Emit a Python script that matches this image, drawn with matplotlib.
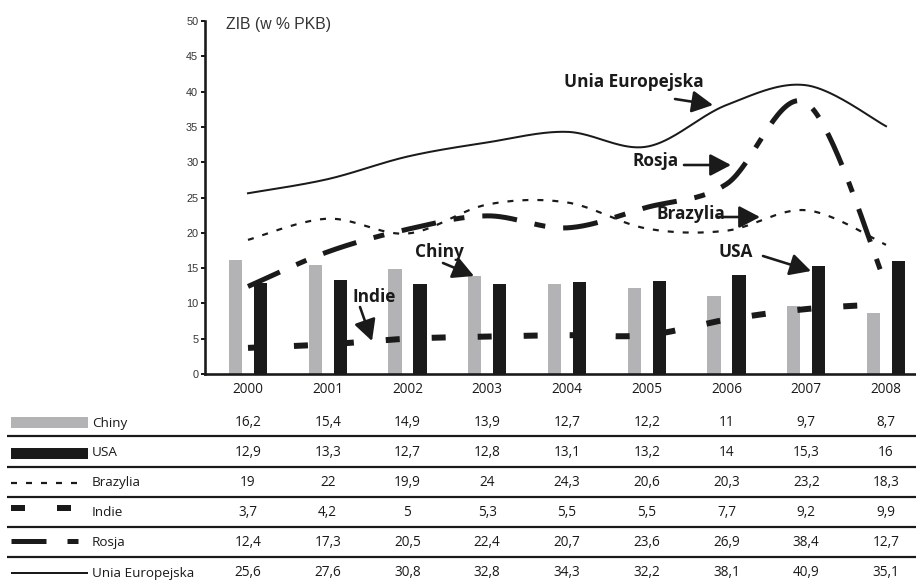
import numpy as np
import matplotlib
matplotlib.use("Agg")
import matplotlib.pyplot as plt
from matplotlib.transforms import blended_transform_factory

# ---- data -----------------------------------------------------------------
years = ["2000", "2001", "2002", "2003", "2004", "2005", "2006", "2007", "2008"]
chiny = [16.2, 15.4, 14.9, 13.9, 12.7, 12.2, 11, 9.7, 8.7]
usa = [12.9, 13.3, 12.7, 12.8, 13.1, 13.2, 14, 15.3, 16]
brazylia = [19, 22, 19.9, 24, 24.3, 20.6, 20.3, 23.2, 18.3]
indie = [3.7, 4.2, 5, 5.3, 5.5, 5.5, 7.7, 9.2, 9.9]
rosja = [12.4, 17.3, 20.5, 22.4, 20.7, 23.6, 26.9, 38.4, 12.7]
ue = [25.6, 27.6, 30.8, 32.8, 34.3, 32.2, 38.1, 40.9, 35.1]

row_names = ["Chiny", "USA", "Brazylia", "Indie", "Rosja", "Unia Europejska"]
row_values = [chiny, usa, brazylia, indie, rosja, ue]

y_title = "ZIB (w % PKB)"

# ---- style ----------------------------------------------------------------
plt.rcParams["lines.scale_dashes"] = False
W, H = 916, 580
PT = 0.72  # pixels -> points at 100 dpi

GRAY = "#b3b3b5"
INK = "#1a1a1a"
TXT = "#1a1a1a"
BODY = ["Open Sans", "DejaVu Sans"]
ARIAL = ["Liberation Sans", "DejaVu Sans"]

styles = {
    "Brazylia": dict(color=INK, lw=2.2 * PT, ls=(0, (6 * PT, 9 * PT))),
    "Indie": dict(color=INK, lw=6 * PT, ls=(0, (14 * PT, 32 * PT))),
    "Rosja": dict(color=INK, lw=5 * PT, ls=(0, (35 * PT, 18 * PT, 11 * PT, 18 * PT))),
    "Unia Europejska": dict(color=INK, lw=2 * PT, ls="-"),
}


def smooth(values, n=40):
    """Bezier smoothing through the points (Catmull-Rom control points)."""
    p = np.column_stack([np.arange(len(values), dtype=float), np.asarray(values, float)])
    ext = np.vstack([p[0], p, p[-1]])
    xs, ys = [], []
    t = np.linspace(0, 1, n)[:, None]
    for i in range(len(p) - 1):
        p0, p3 = ext[i + 1], ext[i + 2]
        c1 = p0 + (ext[i + 2] - ext[i]) / 6.0
        c2 = p3 - (ext[i + 3] - ext[i + 1]) / 6.0
        seg = ((1 - t) ** 3) * p0 + 3 * ((1 - t) ** 2) * t * c1 + 3 * (1 - t) * t ** 2 * c2 + t ** 3 * p3
        if i > 0:
            seg = seg[1:]
        xs.append(seg[:, 0])
        ys.append(seg[:, 1])
    return np.concatenate(xs), np.concatenate(ys)


fig = plt.figure(figsize=(W / 100, H / 100), dpi=100)
fig.patch.set_facecolor("white")

ax = fig.add_axes([205 / W, 1 - 374 / H, 711 / W, 353 / H])
x = np.arange(len(years))
bw = 0.165
off = 0.157
ax.bar(x - off, chiny, width=bw, color=GRAY, zorder=2)
ax.bar(x + off, usa, width=bw, color=INK, zorder=2)

for name, vals in [("Brazylia", brazylia), ("Indie", indie), ("Rosja", rosja),
                   ("Unia Europejska", ue)]:
    sx, sy = smooth(vals)
    st = styles[name]
    ax.plot(sx, sy, color=st["color"], lw=st["lw"], ls=st["ls"],
            dash_capstyle="butt", zorder=3)

ax.set_xlim(-0.539, 8.376)
ax.set_ylim(0, 50)
ax.set_yticks(np.arange(0, 51, 5))
ax.set_xticks(x)
ax.set_xticklabels(years)
for lab in ax.get_xticklabels():
    lab.set_fontfamily(BODY)
    lab.set_fontsize(9.8)
    lab.set_color(TXT)
for lab in ax.get_yticklabels():
    lab.set_fontfamily(ARIAL)
    lab.set_fontsize(7.8)
    lab.set_color("#333333")
ax.tick_params(axis="x", length=0, pad=5.5)
ax.tick_params(axis="y", length=4 * PT, width=2 * PT, pad=2, color=INK)
for s in ("top", "right"):
    ax.spines[s].set_visible(False)
for s in ("left", "bottom"):
    ax.spines[s].set_linewidth(2.6 * PT)
    ax.spines[s].set_color(INK)
ax.patch.set_alpha(0)

# ---- overlay in pixel coordinates for the table and labels ----------------
ov = fig.add_axes([0, 0, 1, 1])
ov.set_xlim(0, W)
ov.set_ylim(H, 0)
ov.axis("off")
ov.patch.set_alpha(0)

ov.text(226, 25, y_title, fontsize=11.3, family=ARIAL, color="#333333", va="center")

# data table below the axis
tr = blended_transform_factory(ax.transData, ov.transData)
row_y = [423, 453, 482.5, 512.5, 542.5, 573]
sep_y = [436, 466.5, 497, 527, 556.5]
for yy in sep_y:
    ov.plot([7, W], [yy, yy], color=INK, lw=2.2 * PT, solid_capstyle="butt")

for yy, name, vals in zip(row_y, row_names, row_values):
    ov.text(92, yy, name, fontsize=9.7, family=BODY, color=TXT, va="center", ha="left")
    for i, v in enumerate(vals):
        ov.text(i, yy, f"{v:g}".replace(".", ","), transform=tr, fontsize=9.8,
                family=BODY, color=TXT, va="center", ha="center")

# legend keys
ov.add_patch(plt.Rectangle((11, 417), 77, 11, color=GRAY, lw=0))
ov.add_patch(plt.Rectangle((11, 447.5), 77, 11, color=INK, lw=0))
key_lines = {"Brazylia": (11, 78, 483, (0, (6 * PT, 9 * PT))),
             "Indie": (11, 73, 508, (0, (14 * PT, 32 * PT))),
             "Rosja": (11, 78, 541, (0, (35 * PT, 21 * PT, 11 * PT, 21 * PT))),
             "Unia Europejska": (11, 88, 573, "-")}
for name, (x0, x1, yy, ls) in key_lines.items():
    st = styles[name]
    ov.plot([x0, x1], [yy, yy], color=st["color"], lw=st["lw"], ls=ls,
            dash_capstyle="butt", solid_capstyle="butt")

# series call-outs with arrows
callouts = [
    ("Unia Europejska", (564, 87), (675, 99), (713, 105)),
    ("Rosja", (633, 166), (684, 165), (731, 165)),
    ("Brazylia", (657, 219), (718, 217), (760, 217)),
    ("USA", (718, 257), (763, 256), (811, 271)),
    ("Chiny", (415, 257), (443, 263), (474, 276)),
    ("Indie", (352, 302), (360, 307), (372, 341)),
]
for label, (tx, ty), start, end in callouts:
    ov.text(tx, ty, label, fontsize=12.4, fontweight="bold", family=BODY,
            color=INK, va="baseline", ha="left")
    ov.annotate("", xy=end, xytext=start,
                arrowprops=dict(arrowstyle="-|>,head_length=0.8,head_width=0.42",
                                lw=2.6 * PT, color=INK, mutation_scale=16,
                                shrinkA=0, shrinkB=0))

fig.savefig("out.png", dpi=100)
